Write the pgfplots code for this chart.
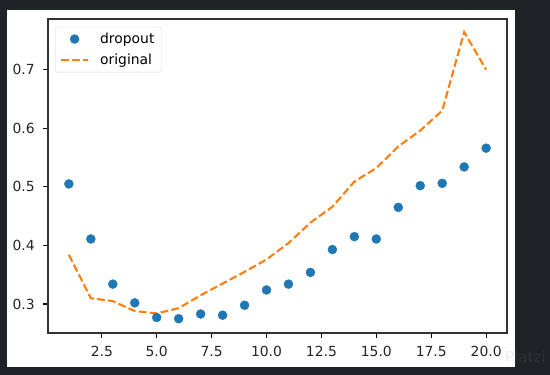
\documentclass[border=0pt]{standalone}
\usepackage{pgfplots}
\pgfplotsset{compat=1.18}
\usepackage{fontspec}
\setmainfont{DejaVu Sans}
\definecolor{mplblue}{HTML}{1F77B4}
\definecolor{mplorange}{HTML}{FF7F0E}
\definecolor{frame}{HTML}{1F2227}
\definecolor{legedge}{HTML}{D5D5D5}
\begin{document}
\begin{tikzpicture}
\path[use as bounding box] (0pt,0pt) rectangle (550pt,375pt);
\fill[frame] (0pt,0pt) rectangle (550pt,375pt);
\fill[white] (7pt,8pt) rectangle (515pt,365pt);
\node[anchor=west, text=gray, opacity=0.15, font=\fontsize{15}{17}\selectfont, inner sep=0pt] at (505pt,18pt) {Platzi};
\begin{axis}[
  at={(48pt,42pt)}, anchor=south west,
  scale only axis, width=459pt, height=314pt,
  xmin=0.05, xmax=20.95, ymin=0.2506, ymax=0.7864,
  xtick={2.5,5,7.5,10,12.5,15,17.5,20},
  ytick={0.3,0.4,0.5,0.6,0.7},
  /pgf/number format/fixed, /pgf/number format/fixed zerofill, /pgf/number format/precision=1,
  /pgf/number format/assume math mode=true,
  tick align=outside, tick pos=left,
  major tick length=4.9pt,
  every tick/.style={black, line width=1.1pt},
  axis line style={line width=1.1pt, black!80},
  ticklabel style={font=\fontsize{13.9}{16}\selectfont, text=black!85},
  xticklabel style={yshift=-4.9pt},
  yticklabel style={xshift=-4.9pt},
  legend style={at={(0.015,0.975)}, anchor=north west, draw=legedge, rounded corners=2pt,
    font=\fontsize{13.9}{16}\selectfont, inner xsep=5pt, inner ysep=4pt,
    row sep=5pt, cells={anchor=west}},
  legend cell align=left,
]
\addplot[only marks, mark=*, mark size=4.5pt, mplblue, mark options={draw=mplblue, fill=mplblue},
  legend image code/.code={\fill[mplblue] (13.5pt,0pt) circle (4.5pt); \path[draw=none] (0pt,0pt) -- (37pt,0pt);}]
coordinates {
(1,0.505) (2,0.411) (3,0.334) (4,0.302) (5,0.277) (6,0.275) (7,0.283) (8,0.281)
(9,0.298) (10,0.324) (11,0.334) (12,0.354) (13,0.393) (14,0.415) (15,0.411)
(16,0.465) (17,0.502) (18,0.506) (19,0.534) (20,0.566)
};
\addlegendentry{dropout}
\addplot[mplorange, line width=2.1pt, dash pattern=on 7.7pt off 3.3pt,
  legend image code/.code={\draw[mplorange, line width=2.1pt, dash pattern=on 7.7pt off 3.3pt] (0pt,0pt) -- (27pt,0pt); \path[draw=none] (0pt,0pt) -- (37pt,0pt);}]
coordinates {
(1,0.384) (2,0.310) (3,0.305) (4,0.288) (5,0.284) (6,0.293) (7,0.315) (8,0.335)
(9,0.355) (10,0.376) (11,0.404) (12,0.439) (13,0.466) (14,0.509) (15,0.532)
(16,0.569) (17,0.596) (18,0.630) (19,0.764) (20,0.700)
};
\addlegendentry{original}
\end{axis}
\end{tikzpicture}
\end{document}
